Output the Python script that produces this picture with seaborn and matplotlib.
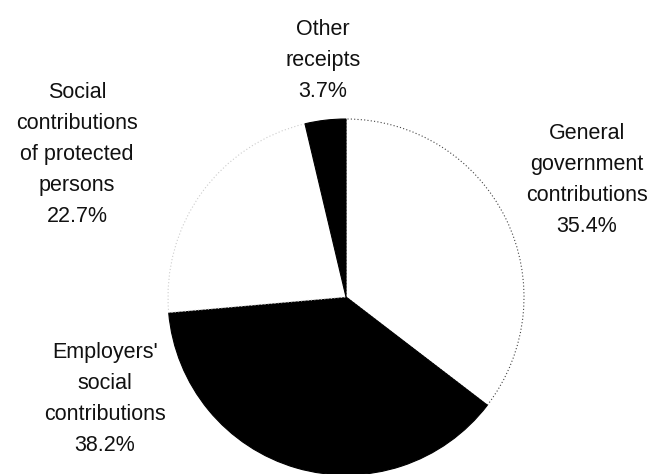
import matplotlib
matplotlib.use("Agg")
import matplotlib.pyplot as plt
import seaborn as sns

categories = ["General\ngovernment\ncontributions", "Employers'\nsocial\ncontributions",
              "Social\ncontributions\nof protected\npersons", "Other\nreceipts"]
shares = [35.4, 38.2, 22.7, 3.7]
colors = ["#ffffff", "#000000", "#ffffff", "#000000"]
edge_colors = ["#444444", "#000000", "#cccccc", "#000000"]

sns.set_theme(style="white")
plt.rcParams['font.family'] = ['Liberation Sans', 'DejaVu Sans']

W, H = 654, 474
fig = plt.figure(figsize=(W / 100, H / 100), dpi=100)
ax = fig.add_axes([0, 0, 1, 1])

cx, cy, r = 346, H - 297, 178
wedges, _ = ax.pie(shares, colors=colors, startangle=90, counterclock=False,
                   center=(cx, cy), radius=r,
                   wedgeprops=dict(linewidth=0.8))
for w, c, ec in zip(wedges, colors, edge_colors):
    w.set_edgecolor(ec)
    if c == "#ffffff":
        w.set_linestyle((0, (1, 2)))

ax.set_xlim(0, W)
ax.set_ylim(0, H)
ax.set_aspect("equal")
ax.axis("off")

# x-center and first-line baseline (image px) for each label block
label_pos = [(587, 139), (105, 358), (77, 98), (323, 35)]
pitch = 31
for lab, val, (x, y0) in zip(categories, shares, label_pos):
    lines = lab.split("\n") + [f"{val:.1f}%"]
    for i, line in enumerate(lines):
        ax.text(x, H - (y0 + i * pitch), line, ha="center", va="baseline",
                fontsize=15.5, color="#111111")

fig.savefig("out.png", dpi=100)
